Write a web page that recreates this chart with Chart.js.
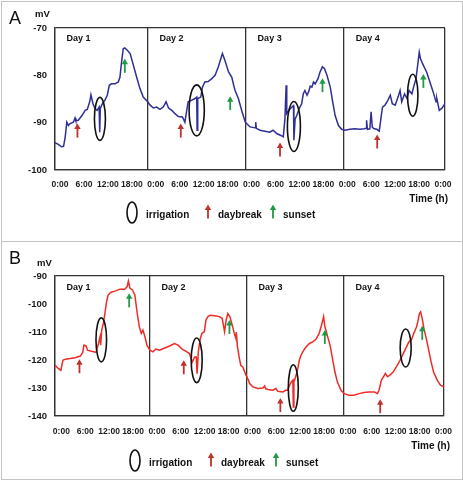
<!DOCTYPE html>
<html>
<head>
<meta charset="utf-8">
<script src="https://cdn.jsdelivr.net/npm/chart.js@4.4.1/dist/chart.umd.min.js"></script>
<style>
  body { margin: 0; background: #fff; }
  #wrap { position: relative; width: 463px; height: 481px; }
  #wrap canvas { position: absolute; left: 0; }
  #chartA { top: 0; }
  #chartB { top: 241px; }
  .frame { position: absolute; left: 1px; top: 1px; width: 460px; height: 477px; border: 1px solid #c4c4c4; }
  .split { position: absolute; left: 1px; top: 241px; width: 461px; height: 1px; background: #c4c4c4; }
</style>
</head>
<body>
<div id="wrap">
  <canvas id="chartA" width="463" height="241"></canvas>
  <canvas id="chartB" width="463" height="240"></canvas>
  <div class="frame"></div>
  <div class="split"></div>
</div>
<script>
// Panel A - time (h from first midnight) and potential (mV)
const timeA = [
  1.2, 2.0, 2.8, 3.3, 3.7, 4.1, 4.5, 4.9, 5.7, 6.1, 6.3, 6.9, 7.8, 8.6, 9.1, 9.7, 10.0, 10.5, 11.0, 11.5,
  12.0, 12.15, 12.3, 12.8, 13.4, 14.0, 14.5, 15.0, 15.9, 16.7, 17.1, 17.5, 17.9, 18.3, 18.9, 19.6, 20.4, 21.2, 22.0, 22.8,
  23.9, 24.5, 25.3, 26.1, 26.9, 27.7, 28.4, 29.0, 29.8, 30.6, 31.4, 32.4, 33.0, 33.4, 33.8, 34.6, 35.5, 35.9, 36.0, 36.15,
  36.9, 37.3, 37.9, 38.7, 39.6, 40.4, 41.2, 41.8, 42.2, 42.8, 43.7, 44.5, 44.9, 45.3, 46.1, 47.0, 47.8, 48.6, 49.0, 50.2,
  50.35, 50.5, 51.4, 52.6, 53.8, 54.6, 55.5, 56.5, 57.1, 57.5, 57.8, 57.95, 58.5, 59.2, 59.6, 59.7, 60.0, 60.4, 61.0, 61.6,
  62.0, 62.4, 62.9, 63.3, 63.7, 64.1, 64.5, 64.9, 65.6, 66.1, 66.7, 67.2, 67.8, 68.6, 69.2, 69.8, 70.6, 71.4, 72.2, 73.4,
  74.6, 75.9, 76.9, 77.4, 77.5, 77.7, 78.3, 78.6, 78.9, 79.4, 80.0, 80.6, 81.1, 81.4, 82.0, 82.7, 83.3, 83.8, 84.5, 85.2,
  85.7, 86.1, 86.8, 87.4, 87.9, 88.6, 89.0, 89.6, 90.1, 90.4, 90.7, 91.4, 92.2, 93.0, 93.8, 94.5, 94.7, 95.3, 95.9, 96.7
];
const mvA = [
  -94.2, -94.6, -95.1, -95.0, -93.0, -89.9, -90.6, -90.2, -89.9, -89.0, -89.6, -89.5, -88.5, -87.4, -87.2, -85.6, -84.1, -86.0, -87.0, -87.4,
  -86.7, -92.0, -87.0, -86.0, -85.3, -84.2, -82.1, -81.8, -81.8, -81.4, -80.4, -77.2, -74.4, -74.2, -74.7, -75.4, -77.9, -80.4, -82.8, -84.6,
  -85.6, -86.3, -86.9, -86.7, -87.2, -86.7, -85.6, -86.9, -87.4, -88.1, -88.7, -88.8, -89.9, -87.7, -85.6, -85.3, -84.9, -84.6, -91.6, -84.9,
  -84.6, -82.5, -81.4, -81.3, -80.7, -80.0, -78.2, -76.5, -75.4, -76.8, -79.3, -80.4, -81.9, -83.2, -84.9, -87.7, -89.9, -90.6, -90.9, -91.1,
  -89.9, -91.2, -91.6, -91.8, -92.0, -91.6, -92.3, -92.7, -93.0, -89.2, -82.1, -88.1, -87.4, -86.7, -86.4, -93.7, -89.2, -88.5, -87.0, -86.0,
  -83.9, -83.2, -84.2, -83.5, -82.3, -82.5, -81.4, -81.8, -80.7, -79.3, -78.2, -78.6, -80.0, -82.5, -85.6, -88.5, -90.6, -91.4, -91.6, -91.4,
  -91.3, -91.4, -91.3, -91.2, -89.5, -91.4, -91.3, -87.7, -91.0, -91.3, -91.4, -91.8, -88.5, -86.7, -86.3, -85.3, -84.2, -86.0, -86.3, -84.6,
  -83.2, -85.6, -83.9, -84.9, -83.2, -83.9, -82.5, -80.7, -77.2, -75.1, -76.5, -77.9, -79.3, -81.4, -83.5, -85.6, -84.9, -87.4, -87.0, -86.0
];

// Panel B
const timeB = [
  0.5, 1.15, 1.95, 2.45, 3.05, 4.25, 5.45, 6.75, 7.35, 7.65, 8.15, 8.55, 9.55, 10.65, 11.25, 11.65, 11.8, 12.05, 12.45, 12.85,
  13.25, 13.65, 14.25, 15.35, 16.55, 17.75, 18.35, 18.65, 19.05, 19.65, 20.25, 20.85, 21.35, 21.85, 22.25, 22.75, 23.25, 23.95, 24.75, 25.45,
  26.35, 27.65, 28.85, 30.05, 30.95, 31.95, 32.95, 33.75, 34.45, 35.05, 35.45, 35.65, 35.95, 36.45, 36.85, 37.45, 37.85, 38.35, 38.85, 39.95,
  41.15, 41.85, 42.15, 42.45, 42.85, 43.25, 43.75, 44.45, 44.85, 45.25, 45.35, 45.65, 46.05, 46.45, 46.95, 47.75, 48.35, 48.65, 49.45, 50.65,
  51.95, 52.35, 52.65, 53.15, 54.35, 55.15, 55.65, 56.85, 57.55, 58.05, 58.45, 58.95, 59.35, 59.45, 59.6, 59.75, 60.15, 60.55, 60.95, 61.35,
  62.05, 62.65, 63.45, 64.25, 65.05, 65.85, 66.45, 66.95, 67.25, 67.95, 68.55, 69.15, 69.75, 70.35, 71.25, 72.05, 73.25, 74.45, 75.75, 76.95,
  78.15, 79.55, 80.25, 80.65, 81.25, 81.75, 82.25, 82.75, 83.35, 84.15, 85.15, 85.85, 86.65, 87.45, 88.05, 88.65, 89.25, 89.95, 90.25, 90.65,
  90.95, 91.35, 91.75, 92.35, 92.95, 93.55, 94.15, 95.05, 95.85, 96.7
];
const mvB = [
  -121.9, -122.8, -123.7, -120.1, -119.7, -119.5, -119.2, -118.6, -117.3, -114.7, -114.9, -116.5, -116.9, -117.3, -114.1, -111.7, -114.7, -109.3, -107.0, -103.4,
  -99.2, -96.8, -95.9, -95.4, -94.7, -94.7, -93.8, -91.8, -94.4, -95.0, -96.8, -103.4, -108.1, -110.5, -109.3, -111.7, -114.7, -116.5, -117.1, -116.1,
  -116.5, -115.7, -115.0, -114.1, -114.7, -116.1, -116.9, -117.7, -120.7, -118.9, -118.9, -124.9, -117.1, -112.3, -110.5, -109.9, -105.7, -104.5, -104.0, -104.2,
  -104.5, -105.1, -107.5, -109.9, -105.7, -103.4, -104.5, -108.1, -110.5, -112.3, -110.0, -115.3, -118.9, -121.9, -122.5, -125.4, -127.2, -128.4, -129.6, -130.2,
  -130.0, -129.3, -130.3, -130.5, -130.8, -130.2, -131.2, -131.4, -130.8, -130.8, -129.3, -127.8, -127.2, -136.8, -127.2, -127.2, -125.4, -123.1, -120.1, -118.3,
  -116.5, -115.3, -114.1, -113.5, -112.6, -110.5, -107.5, -104.5, -108.0, -111.7, -114.7, -119.5, -124.3, -127.8, -130.8, -132.0, -132.6, -132.6, -132.0, -131.6,
  -131.4, -131.4, -132.0, -130.8, -127.2, -126.0, -124.8, -126.0, -125.4, -124.3, -121.9, -120.1, -117.7, -115.3, -113.5, -112.9, -110.5, -108.1, -106.3, -103.4,
  -102.8, -105.2, -108.7, -112.3, -116.5, -120.7, -124.3, -127.2, -129.0, -129.6
];

// markers: irrigation (ellipse centre), daybreak / sunset (arrow tip)
const irrigTimeA = [12.2, 35.9, 59.7, 88.8];
const irrigMvA = [-89.2, -87.4, -90.8, -84.2];
const daybreakTimeA = [6.7, 32.0, 56.3, 80.1];
const daybreakMvA = [-90.2, -90.2, -94.2, -92.5];
const sunsetTimeA = [18.3, 44.1, 66.7, 91.4];
const sunsetMvA = [-76.5, -84.4, -80.6, -79.7];

const irrigTimeB = [11.95, 35.55, 59.45, 87.25];
const irrigMvB = [-112.8, -120.1, -130.0, -115.7];
const daybreakTimeB = [6.55, 32.35, 56.25, 80.95];
const daybreakMvB = [-119.7, -120.1, -133.6, -134.0];
const sunsetTimeB = [18.85, 43.65, 67.25, 91.35];
const sunsetMvB = [-96.2, -105.7, -109.3, -107.8];

const dayLabels = ["Day 1", "Day 2", "Day 3", "Day 4"];
const dayStarts = [0, 24, 48, 72];
const tickHours = [0, 6, 12, 18]; // shown as "h:00", repeated for each day
const legendLabels = ["irrigation", "daybreak", "sunset"];

// ellipse radii (px) for each irrigation mark
const ellipseSizeA = [[5.5, 21.5], [7.6, 25.5], [6.5, 25], [5.2, 21]];
const ellipseSizeB = [[5.3, 22], [5.5, 22.3], [5, 23.3], [5.5, 19]];

const FONT = "'Liberation Sans', Arial, sans-serif";
const AXIS_COLOR = "#333";
const RED = "#c0302c";
const GREEN = "#1f9a45";

const drawArrow = (ctx, x, tipY, color) => {
  ctx.save();
  ctx.strokeStyle = color;
  ctx.fillStyle = color;
  ctx.lineWidth = 1.8;
  ctx.beginPath();
  ctx.moveTo(x, tipY + 4);
  ctx.lineTo(x, tipY + 14);
  ctx.stroke();
  ctx.beginPath();
  ctx.moveTo(x, tipY);
  ctx.lineTo(x - 3.2, tipY + 5.5);
  ctx.lineTo(x + 3.2, tipY + 5.5);
  ctx.closePath();
  ctx.fill();
  ctx.restore();
};

const drawEllipse = (ctx, x, y, rx, ry) => {
  ctx.save();
  ctx.strokeStyle = "#111";
  ctx.lineWidth = 1.6;
  ctx.beginPath();
  ctx.ellipse(x, y, rx, ry, 0, 0, Math.PI * 2);
  ctx.stroke();
  ctx.restore();
};

const decorPlugin = (p) => ({
  id: "decor" + p.letter,
  afterDatasetsDraw: (chart) => {
    const { ctx } = chart;
    const xs = chart.scales.x;
    const ys = chart.scales.y;
    p.irrigTime.forEach((t, i) => {
      drawEllipse(ctx, xs.getPixelForValue(t), ys.getPixelForValue(p.irrigMv[i]), p.sizes[i][0], p.sizes[i][1]);
    });
    p.dayTime.forEach((t, i) => drawArrow(ctx, xs.getPixelForValue(t), ys.getPixelForValue(p.dayMv[i]), RED));
    p.sunTime.forEach((t, i) => drawArrow(ctx, xs.getPixelForValue(t), ys.getPixelForValue(p.sunMv[i]), GREEN));
  },
  afterDraw: (chart) => {
    const { ctx, chartArea } = chart;
    const xs = chart.scales.x;
    ctx.save();
    ctx.fillStyle = "#111";
    ctx.textBaseline = "middle";
    // panel letter + unit
    ctx.font = "18px " + FONT;
    ctx.fillText(p.letter, 9, p.letterY);
    ctx.font = "bold 9.5px " + FONT;
    ctx.fillText("mV", p.mvX, p.mvY);
    // day labels
    ctx.font = "bold 9px " + FONT;
    dayLabels.forEach((d, i) => {
      const x0 = Math.max(chartArea.left, xs.getPixelForValue(dayStarts[i]));
      ctx.fillText(d, x0 + 11.5, chartArea.top + p.dayDy);
    });
    // axis title
    ctx.font = "bold 10px " + FONT;
    ctx.textAlign = "right";
    ctx.fillText("Time (h)", p.timeX, p.timeY);
    ctx.textAlign = "left";
    // legend
    const ly = p.legendY;
    drawEllipse(ctx, p.legendX, ly, 5, 10.5);
    ctx.fillStyle = "#111";
    ctx.fillText(legendLabels[0], p.legendX + 14, ly + 3);
    drawArrow(ctx, p.legendX + 76, ly - 8, RED);
    ctx.fillStyle = "#111";
    ctx.fillText(legendLabels[1], p.legendX + 86, ly + 3);
    drawArrow(ctx, p.legendX + 141, ly - 8, GREEN);
    ctx.fillStyle = "#111";
    ctx.fillText(legendLabels[2], p.legendX + 151, ly + 3);
    ctx.restore();
  },
});

const makeChart = (id, p) => {
  return new Chart(document.getElementById(id), {
    type: "line",
    data: {
      datasets: [
        {
          data: p.time.map((t, i) => ({ x: t, y: p.mv[i] })),
          borderColor: p.color,
          borderWidth: 1.5,
          pointRadius: 0,
          tension: 0,
        },
      ],
    },
    options: {
      responsive: false,
      animation: false,
      layout: { padding: { top: p.padTop, right: 18, bottom: p.padBottom, left: 0 } },
      plugins: { legend: { display: false }, tooltip: { enabled: false } },
      scales: {
        // data axis: frame + midnight dividers
        x: {
          type: "linear",
          min: p.xMin,
          max: p.xMax,
          afterFit: (scale) => {
            scale.height = 0;
          },
          afterBuildTicks: (scale) => {
            scale.ticks = [p.xMin, ...dayStarts.slice(1), p.xMax].map((v) => ({ value: v }));
          },
          ticks: { display: false },
          grid: { drawTicks: false, tickLength: 0, lineWidth: 1.3, color: AXIS_COLOR },
          border: { color: AXIS_COLOR, width: 1.3 },
        },
        // text labels under the plot, spread evenly like the original
        xl: {
          type: "linear",
          position: "bottom",
          min: p.labelMin,
          max: p.labelMax,
          afterFit: (scale) => {
            scale.height = 25;
          },
          afterBuildTicks: (scale) => {
            const ticks = [];
            dayStarts.forEach((d) => tickHours.forEach((h) => ticks.push({ value: d + h })));
            ticks.push({ value: 96 });
            scale.ticks = ticks;
          },
          ticks: {
            autoSkip: false,
            maxRotation: 0,
            padding: p.xTickPad,
            color: "#1a1a1a",
            font: { family: FONT, size: 8.5, weight: "bold" },
            callback: (v) => (v % 24) + ":00",
          },
          grid: { display: false, drawTicks: false, tickLength: 0 },
          border: { display: false },
        },
        y: {
          min: p.yMin,
          max: p.yMax,
          afterFit: (scale) => {
            scale.width = 55;
          },
          ticks: {
            stepSize: 10,
            padding: 8,
            color: "#1a1a1a",
            font: { family: FONT, size: 9.5, weight: "bold" },
          },
          grid: {
            drawTicks: false,
            tickLength: 0,
            lineWidth: 1.3,
            color: (c) =>
              c.tick && (c.tick.value === p.yMin || c.tick.value === p.yMax) ? AXIS_COLOR : "rgba(0,0,0,0)",
          },
          border: { color: AXIS_COLOR, width: 1.3 },
        },
      },
    },
    plugins: [decorPlugin(p)],
  });
};

makeChart("chartA", {
  letter: "A",
  time: timeA,
  mv: mvA,
  color: "#2f2f96",
  xMin: 1.2,
  xMax: 96.7,
  labelMin: -1.25,
  labelMax: 96.5,
  yMin: -100,
  yMax: -70,
  padTop: 28,
  padBottom: 46,
  xTickPad: 10,
  irrigTime: irrigTimeA,
  irrigMv: irrigMvA,
  sizes: ellipseSizeA,
  dayTime: daybreakTimeA,
  dayMv: daybreakMvA,
  sunTime: sunsetTimeA,
  sunMv: sunsetMvA,
  letterY: 19,
  mvX: 35,
  mvY: 14,
  dayDy: 11,
  timeX: 448,
  timeY: 199,
  legendX: 132,
  legendY: 212.5,
});

makeChart("chartB", {
  letter: "B",
  time: timeB,
  mv: mvB,
  color: "#ee2b24",
  xMin: 0.5,
  xMax: 96.7,
  labelMin: -1.6,
  labelMax: 96.1,
  yMin: -140,
  yMax: -90,
  padTop: 35,
  padBottom: 40,
  xTickPad: 11,
  irrigTime: irrigTimeB,
  irrigMv: irrigMvB,
  sizes: ellipseSizeB,
  dayTime: daybreakTimeB,
  dayMv: daybreakMvB,
  sunTime: sunsetTimeB,
  sunMv: sunsetMvB,
  letterY: 18,
  mvX: 37,
  mvY: 22,
  dayDy: 12,
  timeX: 450,
  timeY: 205,
  legendX: 135,
  legendY: 219.5,
});
</script>
</body>
</html>
